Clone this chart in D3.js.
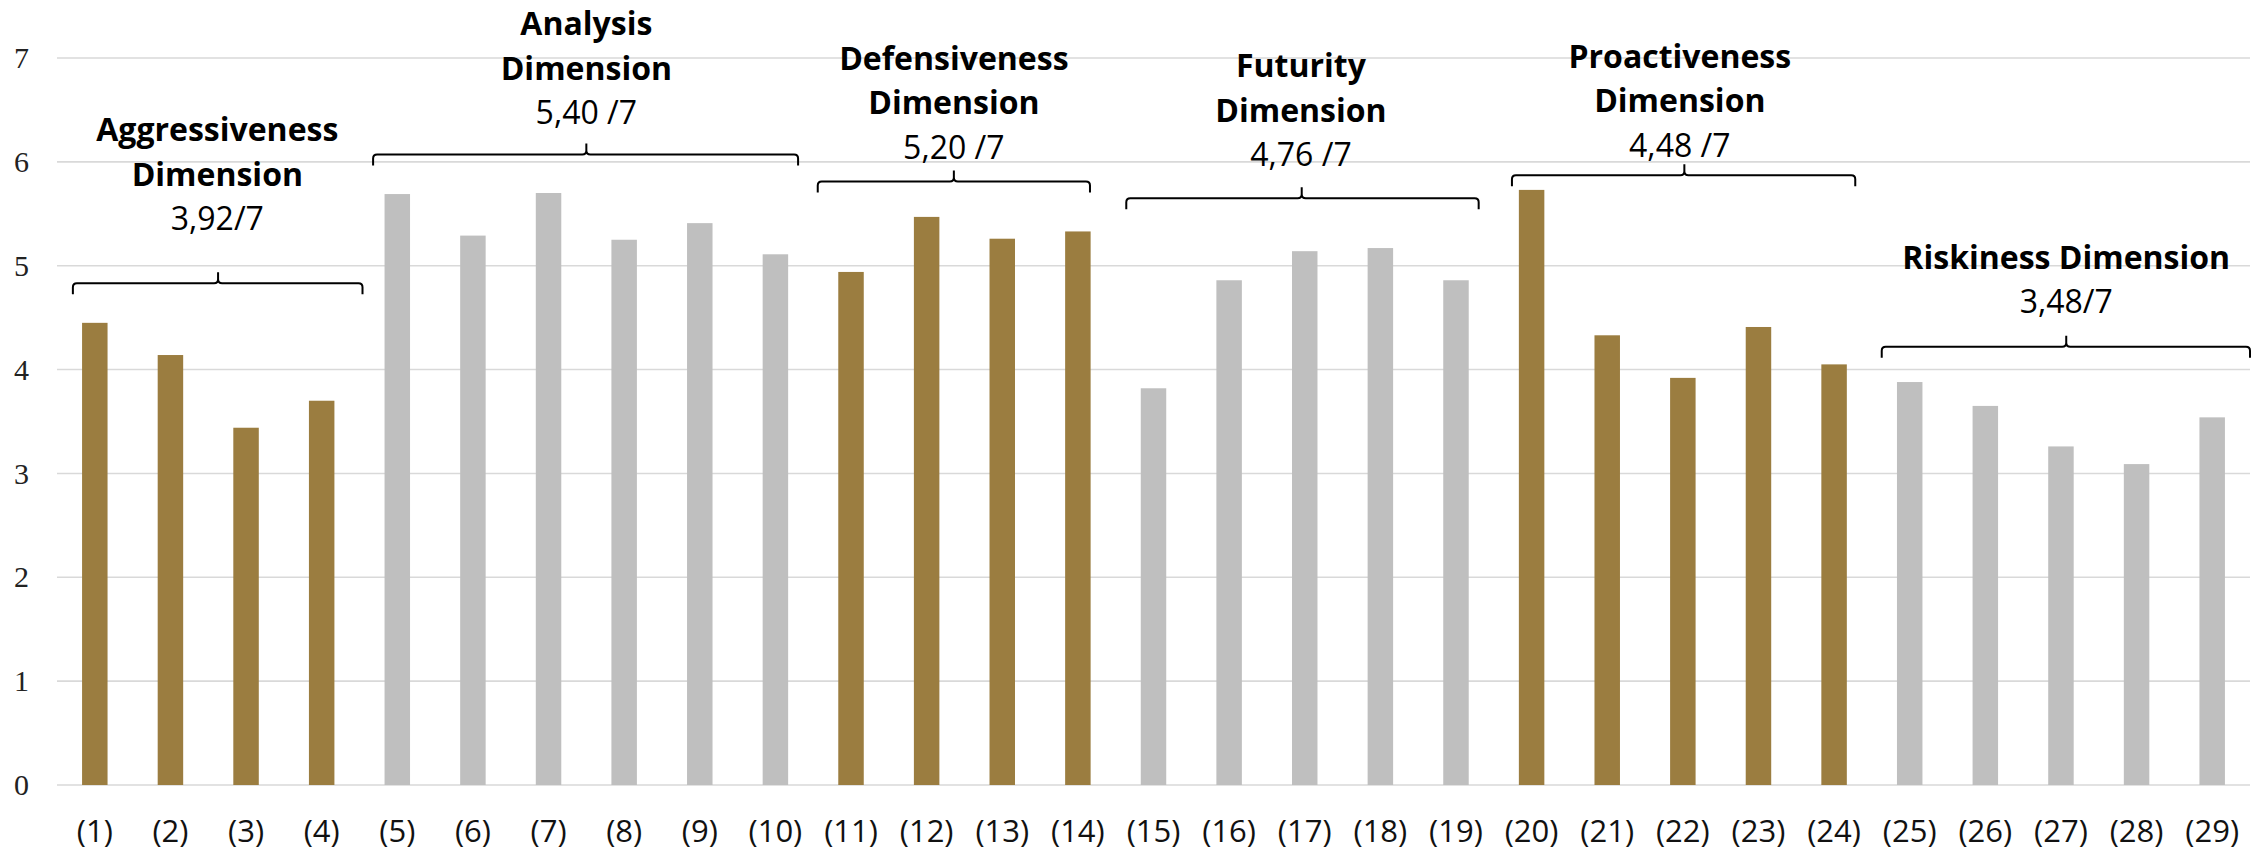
<!DOCTYPE html>
<html>
<head>
<meta charset="utf-8">
<script src="https://cdn.jsdelivr.net/npm/d3@7"></script>
<style>
  html, body { margin: 0; padding: 0; background: #fff; }
  svg { display: block; }
  .y-axis text { font-family: "Liberation Serif", "DejaVu Serif", serif; }
  .x-axis text, .ann text { font-family: "Open Sans", sans-serif; }
</style>
</head>
<body>
<svg id="chart" width="2262" height="851"></svg>
<script>
// Item labels (1) … (29)
const categories = d3.range(1, 30).map(i => `(${i})`);

// Mean score of each item on the 1–7 scale
const values = [
  4.45, 4.14, 3.44, 3.70,               // Aggressiveness
  5.69, 5.29, 5.70, 5.25, 5.41, 5.11,   // Analysis
  4.94, 5.47, 5.26, 5.33,               // Defensiveness
  3.82, 4.86, 5.14, 5.17, 4.86,         // Futurity
  5.73, 4.33, 3.92, 4.41, 4.05,         // Proactiveness
  3.88, 3.65, 3.26, 3.09, 3.54          // Riskiness
];

// Dimension groups: title lines, dimension score, first and last item (1-based)
const groupTitles = [
  ["Aggressiveness", "Dimension"],
  ["Analysis", "Dimension"],
  ["Defensiveness", "Dimension"],
  ["Futurity", "Dimension"],
  ["Proactiveness", "Dimension"],
  ["Riskiness Dimension"]
];
const groupScores = ["3,92/7", "5,40 /7", "5,20 /7", "4,76 /7", "4,48 /7", "3,48/7"];
const groupFirst = [1, 5, 11, 15, 20, 25];
const groupLast  = [4, 10, 14, 19, 24, 29];

const yTicks = [0, 1, 2, 3, 4, 5, 6, 7];

// Annotation placement: brace ends / centre in item steps, heights in scale units
const braceLayout = [
  { x0: 0.21,  x1: 4.04,  mid: 2.13,  textX: 2.12,  braceY: 4.83, scoreY: 5.34 },
  { x0: 4.18,  x1: 9.80,  mid: 7.00,  textX: 7.00,  braceY: 6.07, scoreY: 6.36 },
  { x0: 10.06, x1: 13.66, mid: 11.86, textX: 11.86, braceY: 5.81, scoreY: 6.03 },
  { x0: 14.14, x1: 18.80, mid: 16.46, textX: 16.45, braceY: 5.65, scoreY: 5.96 },
  { x0: 19.24, x1: 23.78, mid: 21.52, textX: 21.46, braceY: 5.87, scoreY: 6.05 },
  { x0: 24.13, x1: 29.00, mid: 26.57, textX: 26.57, braceY: 4.22, scoreY: 4.54 }
];

const GOLD = "#9b7d40";
const GREY = "#bfbfbf";
const groupColors = [GOLD, GREY, GOLD, GREY, GOLD, GREY];

const W = 2262, H = 851;
const margin = { top: 58, right: 12, bottom: 66, left: 57 };

const svg = d3.select("#chart");

const x = d3.scaleBand()
  .domain(categories)
  .range([margin.left, W - margin.right])
  .paddingInner(0.663)
  .paddingOuter(0.3315);

const y = d3.scaleLinear()
  .domain([0, 7])
  .range([H - margin.bottom, margin.top]);

// colour of each item follows its dimension group
function colorOf(i) {
  const n = i + 1;
  const g = groupFirst.findIndex((f, k) => n >= f && n <= groupLast[k]);
  return groupColors[g];
}

// horizontal grid
svg.append("g")
  .selectAll("line")
  .data(yTicks)
  .join("line")
  .attr("x1", margin.left)
  .attr("x2", W - margin.right)
  .attr("y1", d => y(d))
  .attr("y2", d => y(d))
  .attr("stroke", "#d9d9d9")
  .attr("stroke-width", 1.6);

// bars
svg.append("g")
  .selectAll("rect")
  .data(values)
  .join("rect")
  .attr("x", (d, i) => x(categories[i]))
  .attr("width", x.bandwidth())
  .attr("y", d => y(d))
  .attr("height", d => y(0) - y(d))
  .attr("fill", (d, i) => colorOf(i));

// y axis labels
const yAxis = svg.append("g")
  .attr("class", "y-axis")
  .attr("transform", `translate(${margin.left},0)`)
  .call(d3.axisLeft(y).tickValues(yTicks).tickFormat(d3.format("d")).tickSize(0).tickPadding(28));
yAxis.select(".domain").remove();
yAxis.selectAll("text")
  .attr("font-size", 30)
  .attr("fill", "#222");

// x axis labels
const xAxis = svg.append("g")
  .attr("class", "x-axis")
  .attr("transform", `translate(0,${y(0)})`)
  .call(d3.axisBottom(x).tickSize(0).tickPadding(35));
xAxis.select(".domain").remove();
xAxis.selectAll("text")
  .attr("font-size", 31)
  .attr("fill", "#111");

// dimension braces and captions
const step = x.step();
const at = u => margin.left + u * step;

const ann = svg.append("g").attr("class", "ann").attr("fill", "#000");

braceLayout.forEach((b, k) => {
  const x0 = at(b.x0), x1 = at(b.x1), xm = at(b.mid);
  const yb = y(b.braceY);
  const hook = 11, r = 4;
  const path = [
    `M${x0},${yb + hook}`,
    `L${x0},${yb + r}`,
    `Q${x0},${yb} ${x0 + r},${yb}`,
    `L${xm - r},${yb}`,
    `Q${xm},${yb} ${xm},${yb - r}`,
    `L${xm},${yb - hook}`,
    `M${xm},${yb - r}`,
    `Q${xm},${yb} ${xm + r},${yb}`,
    `L${x1 - r},${yb}`,
    `Q${x1},${yb} ${x1},${yb + r}`,
    `L${x1},${yb + hook}`
  ].join(" ");
  ann.append("path")
    .attr("d", path)
    .attr("fill", "none")
    .attr("stroke", "#000")
    .attr("stroke-width", 2);

  const tx = at(b.textX);
  const ys = y(b.scoreY);
  const lh = 44.5;
  const lines = groupTitles[k];
  lines.forEach((t, j) => {
    ann.append("text")
      .attr("x", tx)
      .attr("y", ys - lh * (lines.length - j))
      .attr("text-anchor", "middle")
      .attr("font-weight", 700)
      .attr("font-size", 32)
      .text(t);
  });
  ann.append("text")
    .attr("x", tx)
    .attr("y", ys)
    .attr("text-anchor", "middle")
    .attr("font-size", 32)
    .text(groupScores[k]);
});
</script>
</body>
</html>
